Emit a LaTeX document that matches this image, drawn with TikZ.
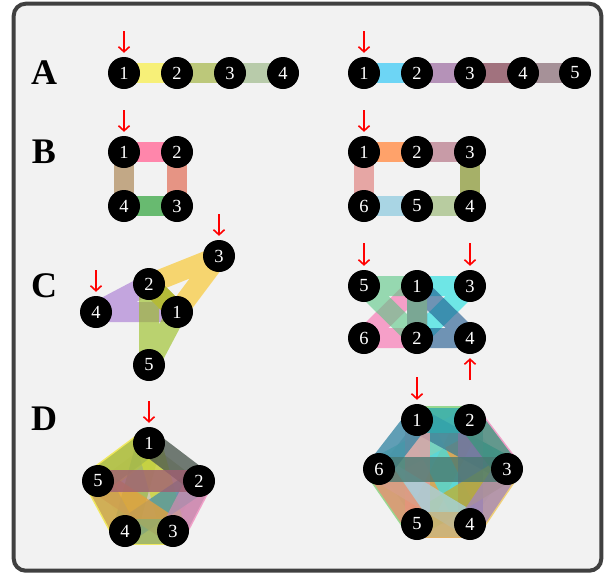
\documentclass[tikz,border=0pt]{standalone}
\usepackage{fontspec}
\setmainfont{Liberation Serif}
\usetikzlibrary{arrows.meta}
\pgfdeclarelayer{back}
\pgfdeclarelayer{bands}
\pgfsetlayers{back,bands,main}

% panel A
\definecolor{alA}{RGB}{247,240,120}
\definecolor{alB}{RGB}{188,200,122}
\definecolor{alC}{RGB}{184,203,170}
\definecolor{arA}{RGB}{109,213,245}
\definecolor{arB}{RGB}{181,146,184}
\definecolor{arC}{RGB}{161,114,126}
\definecolor{arD}{RGB}{166,145,152}
% panel B
\definecolor{blA}{RGB}{255,134,171}
\definecolor{blB}{RGB}{230,148,132}
\definecolor{blC}{RGB}{104,186,112}
\definecolor{blD}{RGB}{194,168,134}
\definecolor{brA}{RGB}{255,162,106}
\definecolor{brB}{RGB}{200,155,167}
\definecolor{brC}{RGB}{166,176,104}
\definecolor{brD}{RGB}{184,204,160}
\definecolor{brE}{RGB}{169,213,228}
\definecolor{brF}{RGB}{230,166,164}
% panel C (base colours, drawn at opacity 0.6)
\definecolor{clY}{RGB}{250,195,25}
\definecolor{clP}{RGB}{165,115,209}
\definecolor{clG}{RGB}{149,189,25}
\definecolor{crG}{RGB}{89,199,132}
\definecolor{crP}{RGB}{250,105,172}
\definecolor{crC}{RGB}{22,222,222}
\definecolor{crB}{RGB}{25,85,139}
% panel D left
\definecolor{dlA}{RGB}{165,185,75}
\definecolor{dlB}{RGB}{75,88,78}
\definecolor{dlC}{RGB}{200,140,175}
\definecolor{dlD}{RGB}{145,172,110}
\definecolor{dlE}{RGB}{200,160,85}
\definecolor{dlF}{RGB}{160,95,115}
\definecolor{dlG}{RGB}{228,160,60}
\definecolor{dlH}{RGB}{75,145,165}
\definecolor{dlI}{RGB}{205,215,60}
\definecolor{dlJ}{RGB}{160,185,80}
\definecolor{dlY}{RGB}{240,230,60}
\definecolor{dlK}{RGB}{240,140,190}
\definecolor{dlHull}{RGB}{175,170,120}
% panel D right
\definecolor{drA}{RGB}{48,170,175}
\definecolor{drB}{RGB}{60,150,125}
\definecolor{drC}{RGB}{165,135,185}
\definecolor{drD}{RGB}{200,180,128}
\definecolor{drE}{RGB}{232,144,112}
\definecolor{drF}{RGB}{55,135,165}
\definecolor{drG}{RGB}{60,125,150}
\definecolor{drH}{RGB}{125,120,160}
\definecolor{drI}{RGB}{192,176,48}
\definecolor{drJ}{RGB}{165,210,222}
\definecolor{drK}{RGB}{228,160,165}
\definecolor{drL}{RGB}{128,210,185}
\definecolor{drM}{RGB}{70,220,220}
\definecolor{drN}{RGB}{224,160,64}
\definecolor{drO}{RGB}{72,120,112}
\definecolor{drHull}{RGB}{150,180,170}
\definecolor{drFg}{RGB}{130,210,120}
\definecolor{drFp}{RGB}{240,140,190}
\definecolor{drFy}{RGB}{240,200,90}
\definecolor{panelbg}{RGB}{242,242,242}
\definecolor{frame}{RGB}{64,64,64}

\tikzset{
  vtx/.style={circle, fill=black, minimum size=32pt, inner sep=0pt, text=white,
    font=\fontsize{18.5}{18.5}\selectfont},
  lbl/.style={font=\bfseries\fontsize{36}{36}\selectfont, inner sep=0pt},
  band/.style={line width=20pt},
  tband/.style={line width=20pt, draw opacity=0.6, line join=round},
  dband/.style={line width=25pt, draw opacity=0.78},
  fringe/.style={line width=28pt, draw opacity=0.8},
  redarrow/.style={draw=red, line width=1.6pt,
    -{Straight Barb[length=5pt,width=11pt]}, shorten >=4pt},
}

\begin{document}
\begin{tikzpicture}[x=1pt,y=-1pt]
\useasboundingbox (0,0) rectangle (612,574);
\begin{pgfonlayer}{back}
  \draw[line width=4pt, draw=frame, fill=panelbg, rounded corners=12pt]
    (13.7,3.7) rectangle (601.3,570.7);
\end{pgfonlayer}

% row labels
\node[lbl] (labA) at (44,73) {A};
\node[lbl] (labB) at (44,152) {B};
\node[lbl] (labC) at (44,286) {C};
\node[lbl] (labD) at (44,419) {D};

% ---------------- A ----------------
\node[vtx] (al1) at (124,73) {1};
\node[vtx] (al2) at (177,73) {2};
\node[vtx] (al3) at (230,73) {3};
\node[vtx] (al4) at (283,73) {4};
\node[vtx] (ar1) at (364,73) {1};
\node[vtx] (ar2) at (417,73) {2};
\node[vtx] (ar3) at (470,73) {3};
\node[vtx] (ar4) at (523,73) {4};
\node[vtx] (ar5) at (575,73) {5};
\begin{pgfonlayer}{bands}
  \draw[band, draw=alA] (al1.center) -- (al2.center);
  \draw[band, draw=alB] (al2.center) -- (al3.center);
  \draw[band, draw=alC] (al3.center) -- (al4.center);
  \draw[band, draw=arA] (ar1.center) -- (ar2.center);
  \draw[band, draw=arB] (ar2.center) -- (ar3.center);
  \draw[band, draw=arC] (ar3.center) -- (ar4.center);
  \draw[band, draw=arD] (ar4.center) -- (ar5.center);
\end{pgfonlayer}
\coordinate (tal1) at (124,31);
\coordinate (tar1) at (364,31);
\draw[redarrow] (tal1) -- (al1);
\draw[redarrow] (tar1) -- (ar1);

% ---------------- B ----------------
\node[vtx] (bl1) at (124,152) {1};
\node[vtx] (bl2) at (177,152) {2};
\node[vtx] (bl3) at (177,206) {3};
\node[vtx] (bl4) at (124,206) {4};
\node[vtx] (br1) at (364,152) {1};
\node[vtx] (br2) at (417,152) {2};
\node[vtx] (br3) at (470,152) {3};
\node[vtx] (br4) at (470,206) {4};
\node[vtx] (br5) at (417,206) {5};
\node[vtx] (br6) at (364,206) {6};
\begin{pgfonlayer}{bands}
  \draw[band, draw=blA] (bl1.center) -- (bl2.center);
  \draw[band, draw=blB] (bl2.center) -- (bl3.center);
  \draw[band, draw=blC] (bl3.center) -- (bl4.center);
  \draw[band, draw=blD] (bl4.center) -- (bl1.center);
  \draw[band, draw=brA] (br1.center) -- (br2.center);
  \draw[band, draw=brB] (br2.center) -- (br3.center);
  \draw[band, draw=brC] (br3.center) -- (br4.center);
  \draw[band, draw=brD] (br4.center) -- (br5.center);
  \draw[band, draw=brE] (br5.center) -- (br6.center);
  \draw[band, draw=brF] (br6.center) -- (br1.center);
\end{pgfonlayer}
\coordinate (tbl1) at (124,110);
\coordinate (tbr1) at (364,110);
\draw[redarrow] (tbl1) -- (bl1);
\draw[redarrow] (tbr1) -- (br1);

% ---------------- C ----------------
\node[vtx] (cl3) at (219,256) {3};
\node[vtx] (cl2) at (149,284) {2};
\node[vtx] (cl1) at (177,312) {1};
\node[vtx] (cl4) at (96,312) {4};
\node[vtx] (cl5) at (149,365) {5};
\node[vtx] (cr5) at (364,286) {5};
\node[vtx] (cr1) at (417,286) {1};
\node[vtx] (cr3) at (470,286) {3};
\node[vtx] (cr6) at (364,338) {6};
\node[vtx] (cr2) at (417,338) {2};
\node[vtx] (cr4) at (470,338) {4};
\begin{pgfonlayer}{bands}
  \draw[tband, draw=clP] (cl4.center) -- (cl2.center) -- (cl1.center) -- cycle;
  \draw[tband, draw=clY] (cl2.center) -- (cl3.center) -- (cl1.center) -- cycle;
  \draw[tband, draw=clG] (cl2.center) -- (cl1.center) -- (cl5.center) -- cycle;
  \draw[tband, draw=crC] (cr1.center) -- (cr3.center) -- (cr2.center) -- cycle;
  \draw[tband, draw=crB] (cr2.center) -- (cr4.center) -- (cr1.center) -- cycle;
  \draw[tband, draw=crP] (cr6.center) -- (cr2.center) -- (cr1.center) -- cycle;
  \draw[tband, draw=crG] (cr5.center) -- (cr1.center) -- (cr2.center) -- cycle;
\end{pgfonlayer}
\coordinate (tcl3) at (219,214);
\coordinate (tcl4) at (96,270);
\coordinate (tcr5) at (364,243);
\coordinate (tcr3) at (470,243);
\coordinate (tcr4) at (470,380);
\draw[redarrow] (tcl3) -- (cl3);
\draw[redarrow] (tcl4) -- (cl4);
\draw[redarrow] (tcr5) -- (cr5);
\draw[redarrow] (tcr3) -- (cr3);
\draw[redarrow] (tcr4) -- (cr4);

% ---------------- D ----------------
\node[vtx] (dl1) at (149,443) {1};
\node[vtx] (dl5) at (98,481) {5};
\node[vtx] (dl2) at (199,481) {2};
\node[vtx] (dl4) at (125,531) {4};
\node[vtx] (dl3) at (173,531) {3};
\node[vtx] (dr1) at (417,420) {1};
\node[vtx] (dr2) at (470,420) {2};
\node[vtx] (dr6) at (379,469) {6};
\node[vtx] (dr3) at (507,469) {3};
\node[vtx] (dr5) at (417,524) {5};
\node[vtx] (dr4) at (470,524) {4};
\begin{pgfonlayer}{bands}
  % left: hull and fringes
  \fill[dlHull, opacity=0.55] (dl1.center) -- (dl2.center) -- (dl3.center)
    -- (dl4.center) -- (dl5.center) -- cycle;
  \draw[fringe, draw=dlY] (dl5.center) -- (dl1.center);
  \draw[fringe, draw=dlY] (dl4.center) -- (dl5.center);
  \draw[fringe, draw=dlY] (dl3.center) -- (dl4.center);
  \draw[fringe, draw=dlK] (dl2.center) -- (dl3.center);
  % left: bands
  \draw[dband, draw=dlJ] (dl1.center) -- (dl4.center);
  \draw[dband, draw=dlI] (dl1.center) -- (dl3.center);
  \draw[dband, draw=dlH] (dl4.center) -- (dl2.center);
  \draw[dband, draw=dlG] (dl5.center) -- (dl3.center);
  \draw[dband, draw=dlD] (dl3.center) -- (dl4.center);
  \draw[dband, draw=dlE] (dl4.center) -- (dl5.center);
  \draw[dband, draw=dlA] (dl5.center) -- (dl1.center);
  \draw[dband, draw=dlC] (dl2.center) -- (dl3.center);
  \draw[dband, draw=dlB] (dl1.center) -- (dl2.center);
  \draw[line width=22pt, draw opacity=0.8, draw=dlF] (dl5.center) -- (dl2.center);
  % right: hull and fringes
  \fill[drHull, opacity=0.7] (dr1.center) -- (dr2.center) -- (dr3.center)
    -- (dr4.center) -- (dr5.center) -- (dr6.center) -- cycle;
  \draw[fringe, draw=drFg] (dr1.center) -- (dr2.center);
  \draw[fringe, draw=drFp] (dr2.center) -- (dr3.center);
  \draw[fringe, draw=drFy] (dr3.center) -- (dr4.center);
  \draw[fringe, draw=drN] (dr4.center) -- (dr5.center);
  \draw[fringe, draw=drFg] (dr5.center) -- (dr6.center);
  % right: bands
  \draw[dband, draw=drN] (dr2.center) -- (dr5.center);
  \draw[dband, draw=drM] (dr1.center) -- (dr4.center);
  \draw[dband, draw=drL] (dr6.center) -- (dr2.center);
  \draw[dband, draw=drG] (dr1.center) -- (dr3.center);
  \draw[dband, draw=drH] (dr2.center) -- (dr4.center);
  \draw[dband, draw=drI] (dr3.center) -- (dr5.center);
  \draw[dband, draw=drK] (dr5.center) -- (dr1.center);
  \draw[dband, draw=drJ] (dr4.center) -- (dr6.center);
  \draw[dband, draw=drA] (dr1.center) -- (dr2.center);
  \draw[dband, draw=drB] (dr2.center) -- (dr3.center);
  \draw[dband, draw=drC] (dr3.center) -- (dr4.center);
  \draw[dband, draw=drD] (dr4.center) -- (dr5.center);
  \draw[dband, draw=drE] (dr5.center) -- (dr6.center);
  \draw[dband, draw=drF] (dr6.center) -- (dr1.center);
  \draw[dband, draw=drO] (dr6.center) -- (dr3.center);
\end{pgfonlayer}
\coordinate (tdl1) at (149,401);
\coordinate (tdr1) at (417,377);
\draw[redarrow] (tdl1) -- (dl1);
\draw[redarrow] (tdr1) -- (dr1);
\end{tikzpicture}
\end{document}
